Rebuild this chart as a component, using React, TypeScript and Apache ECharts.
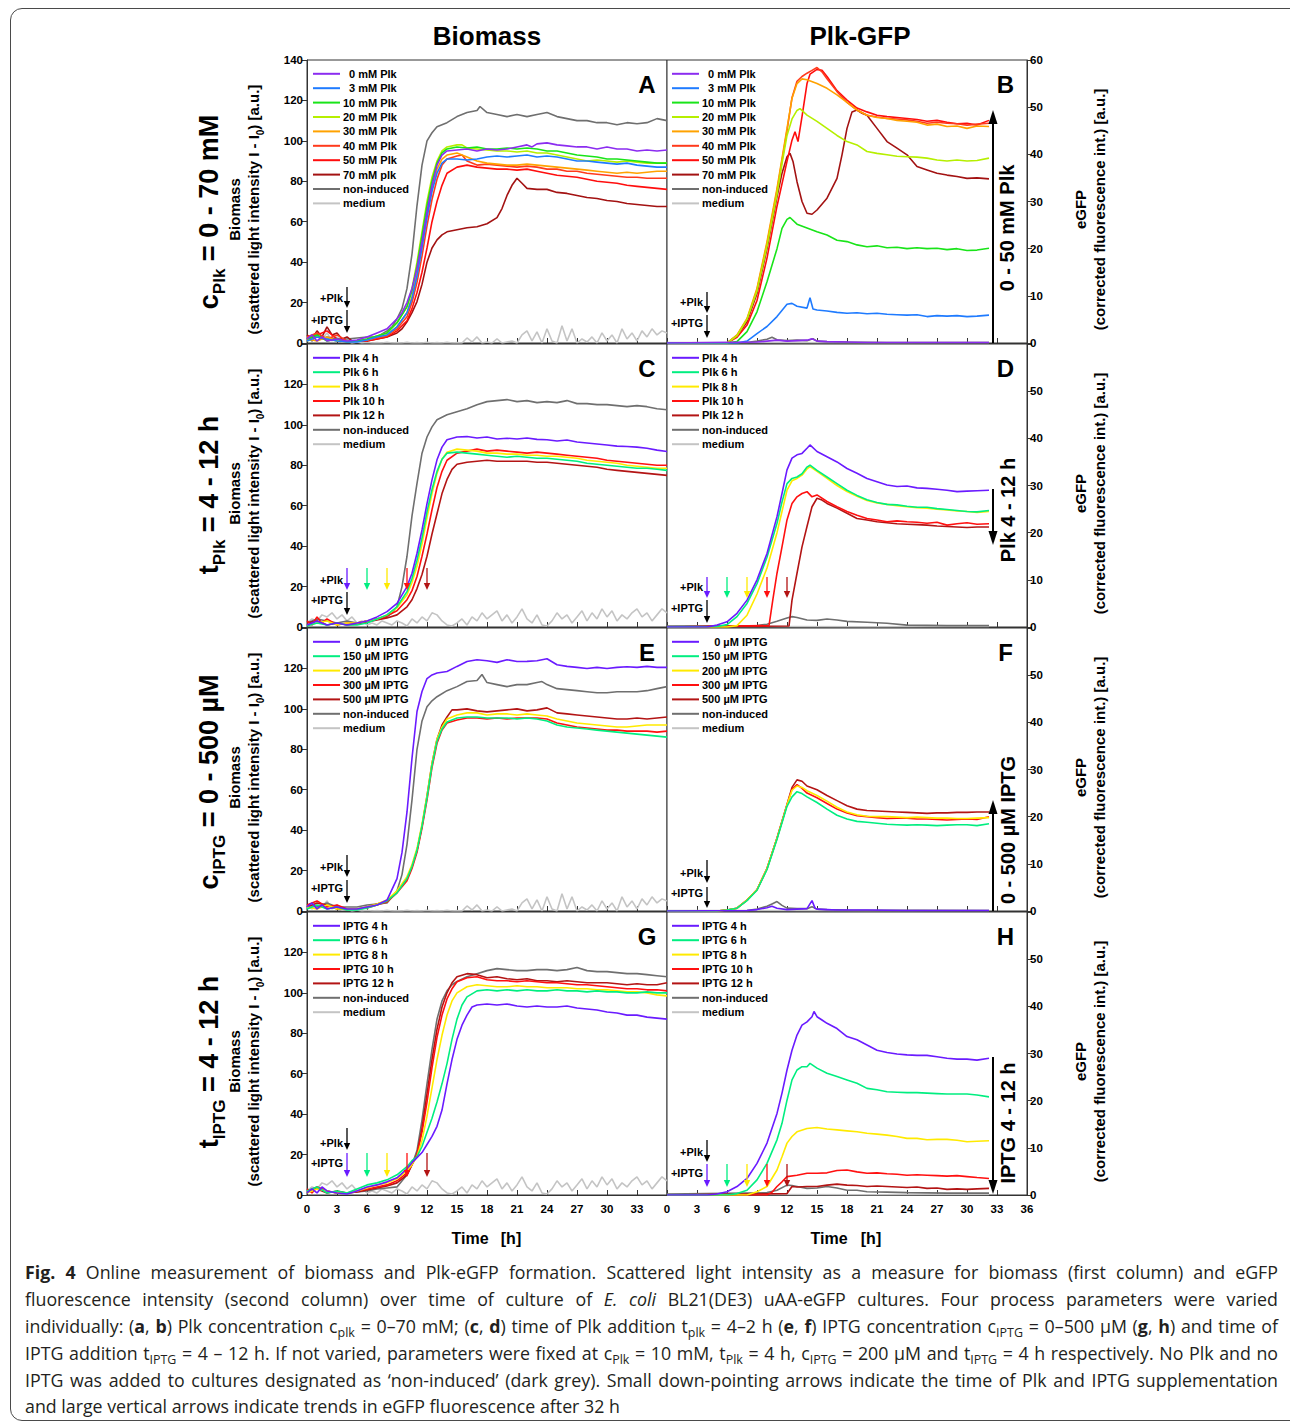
import React, { useEffect, useRef } from "react";
import * as echarts from "echarts";

const FONT = '"Liberation Sans", Arial, Helvetica, sans-serif';

// ---------------- DATA (time [h], value) ----------------
const MED_STEP = 0.5;
const A_MEDIUM = [3,1,4,2,5,1,3,0.5, 1,0,0.5,0,0.3,0,0.2,0,0.3,0,0.2,0,0.3,0,0.2,0,0.3,0,0.2,0,0.3,0,0.2,0,
  2.5,0.5,3,0,0.5,0,2,0,0.5,1,0,4,6,1,5.5,0,7,1,0,8.5,1,7,0,2,0.5,3,0,5,1,4,0,7,2,5,1,6,3,7,4,6,5];
const C_MEDIUM = [2,4,3,6,5,7,4,6,3,5,2,3,1,2,1,3,2,1,3,2,0.5,4,2,5,3,7,6,3,1,0.5,2,4,1,5,3,7,4,6,8,3,6,2,5,9,4,2,6,1,0.5,3,7,4,6,2,5,8,3,7,4,9,5,8,3,6,4,7,9,5,7,3,6,9,7];

const A_0 = [[0,2],[0.5,4],[1,1],[1.5,3],[2,1],[3,2],[4,1],[5,1.5],[6,3],[7,5],[8,7],[9,12],[9.5,15],[10,20],[10.5,27],[11,37],[11.5,50],[12,65],[12.5,78],[13,88],[13.5,93],[14,95],[15,95.5],[16,96],[17,95],[18,96],[19,95.5],[20,96],[21,97],[22,98],[22.5,97],[23,98.5],[24,99],[25,98],[26,97.5],[27,97],[28,97],[29,96],[30,97],[31,96],[32,96],[33,95],[34,95.5],[35,95],[36,95.5]];
const A_3 = [[0,1],[1,3],[2,2],[3,1],[4,0.5],[5,0.5],[6,1.5],[7,3],[8,4],[9,8],[10,15],[10.5,22],[11,33],[11.5,47],[12,62],[12.5,75],[13,84],[13.5,89],[14,91],[15,91],[16,90.5],[17,91],[18,92],[19,92.5],[20,92],[21,92.5],[22,93],[23,92],[24,92.5],[25,92],[26,91],[27,90],[28,90],[29,89.5],[30,89],[31,88.5],[32,89],[33,88],[34,87.5],[35,87],[36,87]];
const A_10 = [[0,2],[1,4],[2,1],[3,2],[4,0.5],[5,1],[6,2],[7,3.5],[8,5],[9,10],[10,18],[10.5,26],[11,38],[11.5,53],[12,68],[12.5,80],[13,89],[13.5,94],[14,96],[15,97],[16,96.5],[17,97],[18,96],[19,96],[20,96.5],[21,96],[22,96.5],[23,96],[24,95],[25,95],[26,94],[27,93],[28,92.5],[29,92],[30,91],[31,91],[32,90.5],[33,90],[34,89.5],[35,89],[36,89]];
const A_20 = [[0,1],[1,3],[2,2],[3,1],[4,1],[5,1],[6,2],[7,3.5],[8,5],[9,10],[10,18],[10.5,27],[11,40],[11.5,55],[12,70],[12.5,82],[13,90],[13.5,95],[14,97],[15,98],[15.5,98],[16,96.5],[17,96],[18,95.5],[19,95],[20,95],[21,94.5],[22,95],[23,94],[24,94],[25,93],[26,92],[27,91],[28,90],[29,90.5],[30,90],[31,89.5],[32,90],[33,89.5],[34,89],[35,89],[36,89]];
const A_30 = [[0,2],[1,1],[2,3],[3,1],[4,0.5],[5,1],[6,1.5],[7,3],[8,4],[9,8],[10,15],[10.5,23],[11,34],[11.5,48],[12,63],[12.5,76],[13,86],[13.5,91],[14,93],[15,94],[16,92],[17,90],[18,89],[19,88.5],[20,88],[21,88],[22,88.5],[23,88],[24,87.5],[25,87],[26,86.5],[27,86],[28,85.5],[29,85],[30,84.5],[31,84],[32,84.5],[33,84],[34,84.5],[35,85],[36,85]];
const A_40 = [[0,3],[1,5],[2,2],[3,4],[4,1],[5,1],[6,1.5],[7,2.5],[8,3.5],[9,7],[10,13],[10.5,20],[11,30],[11.5,43],[12,58],[12.5,71],[13,81],[13.5,88],[14,91],[15,92.5],[15.5,93],[16,90],[17,88],[18,88.5],[19,88],[20,87.5],[21,87],[22,87.5],[23,87],[24,86],[25,86],[26,85],[27,85],[28,84],[29,83.5],[30,83],[31,82.5],[32,82],[33,82],[34,81.5],[35,81.5],[36,81.5]];
const A_50 = [[0,2],[1,4],[2,6],[3,2],[4,1],[5,1],[6,1],[7,2],[8,3],[9,6],[10,11],[10.5,17],[11,25],[11.5,35],[12,47],[12.5,60],[13,70],[13.5,78],[14,84],[15,87],[16,88],[17,87],[18,86.5],[19,86],[20,86],[21,85.5],[22,86],[23,85],[24,84],[25,83],[26,82.5],[27,82],[28,81],[29,80],[30,79.5],[31,79],[32,78],[33,77.5],[34,77],[35,76.5],[36,76]];
const A_70 = [[0,4],[0.5,2],[1,6],[1.5,3],[2,8],[2.5,4],[3,5],[3.5,2],[4,3],[4.5,1],[5,1],[6,1],[7,2],[8,3],[9,5],[9.5,7],[10,10.5],[10.5,15],[11,20.5],[11.5,29],[12,40],[12.5,47],[13,51],[13.5,53.5],[14,55],[15,56],[16,57],[17,57.5],[18,59],[19,62],[19.5,66.5],[20,73],[20.5,78],[21,81.5],[21.5,79],[22,76.5],[23,76],[24,76],[25,74.5],[26,74],[27,73],[28,72],[29,71.5],[30,70.5],[31,70],[32,69],[33,68.5],[34,68],[35,67.5],[36,67.5]];
const A_NON = [[0,3],[0.5,1],[1,4],[1.5,2],[2,3],[3,2],[4,2],[5,2.5],[6,3],[7,3],[8,6],[8.5,8],[9,12],[9.5,17],[10,27],[10.5,44],[11,68],[11.5,88],[12,100],[12.5,104],[13,107],[14,109],[15,112],[16,114],[17,115],[17.3,117],[18,114],[19,113],[20,112],[21,113],[22,112],[23,113],[24,114],[25,112],[26,111],[27,110],[28,110],[29,109],[30,109],[31,108],[32,109],[33,108.5],[34,109],[35,111],[36,110]];

const B_0 = [[0,0],[9,0.2],[10,0.4],[11,0.6],[12,0.4],[13,0.5],[14,0.6],[14.5,0.9],[15,0.4],[16,0.3],[18,0.2],[20,0.1],[32.2,0.1]];
const B_3 = [[0,0],[7,0],[8,0.4],[9,2],[10,3.5],[11,5.6],[12,8.2],[12.5,8.4],[13,7.8],[14,7.4],[14.3,9.6],[14.6,7.2],[15,7],[16,6.8],[17,6.5],[18,6.3],[19,6.4],[20,6.2],[21,6.3],[22,6.1],[23,6],[24,5.9],[25,6],[26,5.6],[27,5.8],[28,5.7],[29,5.8],[30,5.6],[31,5.7],[32.2,5.9]];
const B_10 = [[0,0],[6,0],[7,0.3],[8,2.4],[9,6.6],[10,13],[11,20],[11.5,24.3],[12,26.2],[12.3,26.6],[13,25.2],[14,24.4],[15,23.6],[16,22.9],[17,21.8],[18,21.5],[19,20.8],[20,20.4],[21,20.6],[22,20.2],[23,20.3],[24,20],[25,20.2],[26,20],[27,20.1],[28,19.8],[29,20],[30,19.6],[31,19.7],[32.2,20.1]];
const B_20 = [[0,0],[6,0],[7,1.5],[8,5],[9,11],[10,20.5],[11,31.5],[11.5,38],[12,44],[12.5,47.5],[13,49.3],[13.3,49.7],[14,48.3],[15,47],[16,45.5],[17,44],[18,42.7],[19,42],[20,40.6],[21,40.2],[22,39.9],[23,39.6],[24,39.5],[25,39.4],[26,39.2],[27,38.8],[28,38.6],[29,38.8],[30,38.6],[31,38.7],[32.2,39.2]];
const B_30 = [[0,0],[6,0],[7,1.7],[8,5.2],[9,11.6],[10,21.5],[11,32.8],[12,45.5],[12.5,51.9],[13,55],[13.5,56],[14,55.8],[15,55],[16,54],[17,52.6],[18,51],[19,49.4],[20,48.3],[21,47.8],[22,47.6],[23,47.2],[24,47],[25,46.8],[26,46.2],[27,46.4],[28,45.9],[29,46],[30,45.5],[31,46],[32.2,45.9]];
const B_40 = [[0,0],[6,0],[7,1.6],[8,5],[9,11.3],[10,21],[11,32.3],[12,45],[12.5,52],[13,55.5],[13.5,56.5],[14,57.2],[14.5,57.8],[15,58.4],[15.5,57.5],[16,56],[17,53.3],[18,51],[19,49.4],[20,48.3],[21,47.9],[22,47.6],[23,47.5],[24,47.3],[25,47],[26,46.6],[27,46.8],[28,46.6],[29,46.5],[30,46.2],[31,46.4],[32.2,46.6]];
const B_50 = [[0,0],[6,0],[7,1.2],[8,3.8],[9,9],[10,18],[11,29],[12,38.5],[12.5,43],[12.8,44.8],[13.1,42.7],[13.5,48],[14,55],[14.3,57],[15,58],[15.5,57.8],[16,56.5],[17,53.5],[18,51.5],[19,49.8],[20,49],[21,48.3],[22,48],[23,47.8],[24,47.6],[25,47.4],[26,47],[27,47.2],[28,46.8],[29,46.5],[30,46.6],[31,46.2],[32.2,47.2]];
const B_70 = [[0,0],[6,0],[7,1.5],[8,4.5],[9,10.5],[10,20],[11,31],[11.5,36],[12,39.5],[12.3,40.2],[12.6,38.5],[13,34.2],[13.5,30],[14,27.5],[14.5,27.3],[15,28.2],[16,30.7],[17,34.9],[17.5,39.9],[18,45.5],[18.5,49],[19,49.4],[19.5,48.7],[20,48.3],[21,45.5],[22,42.7],[23,41.3],[24,39.9],[25,37.4],[26,36.7],[27,36],[28,35.6],[29,35.3],[30,34.9],[31,35],[32.2,34.8]];
const B_NON = [[0,0],[8,0.1],[9,0.4],[10,0.8],[10.5,1.2],[11,0.7],[12,0.5],[13,0.6],[14,0.5],[14.6,0.9],[15,0.4],[16,0.3],[18,0.2],[22,0.1],[32.2,0.1]];
const R_MEDIUM = [[0,0.1],[10,0.1],[20,0.05],[32.2,0.1]];

const C_4 = [[0,1],[1,3],[2,1],[3,2],[4,1],[5,2],[6,3],[7,5],[8,7.6],[9,11.7],[10,20],[10.5,26.6],[11,36.5],[11.5,48],[12,61],[12.5,72.8],[13,82.7],[13.5,89],[14,92.6],[15,94],[16,94.2],[17,93.5],[18,94],[19,93],[20,93.4],[21,93],[22,93.5],[23,92.8],[24,92.6],[25,92],[26,92.5],[27,91.5],[28,91],[29,90.5],[30,90],[31,89.5],[32,89.3],[33,89],[34,88.4],[35,87.5],[36,86.8]];
const C_6 = [[0,0.5],[1,2],[2,1],[3,2],[4,1],[5,1],[6,2],[7,4],[8,6],[9,10],[10,17.5],[10.5,24],[11,33],[11.5,44],[12,57],[12.5,68],[13,77],[13.5,83],[14,86],[15,86.5],[16,86],[17,85.5],[18,85],[19,84.5],[20,84],[21,84.5],[22,84],[23,83.5],[24,83.5],[25,83],[26,82.5],[27,82],[28,81],[29,80.5],[30,80],[31,79.5],[32,79],[33,78.5],[34,78.5],[35,78],[36,77.5]];
const C_8 = [[0,1],[1,2],[2,3],[3,1],[4,2],[5,2],[6,3],[7,4],[8,6],[9,9.5],[10,16],[10.5,22],[11,30],[11.5,41],[12,54],[12.5,66],[13,76],[13.5,83],[14,86.5],[15,88],[16,87.5],[17,87],[18,86],[19,86],[20,85.5],[21,85.5],[22,85],[23,85],[24,84.5],[25,84.5],[26,84],[27,83.5],[28,82.5],[29,82],[30,81.5],[31,81],[32,80],[33,79.5],[34,79],[35,78.5],[36,78.5]];
const C_10 = [[0,3],[0.5,1],[1,5],[1.5,2],[2,4],[3,1],[4,2],[5,2],[6,3],[7,4],[8,5.5],[9,8],[10,13.5],[10.5,18],[11,25],[11.5,35],[12,46],[12.5,58],[13,69],[13.5,77],[14,82.5],[15,86],[16,87],[17,88],[18,87],[19,87.5],[20,87],[21,86.5],[22,86],[23,86.5],[24,86],[25,85.5],[26,85],[27,84.5],[28,84],[29,83.5],[30,82.5],[31,82],[32,81.5],[33,81],[34,80.5],[35,80],[36,80]];
const C_12 = [[0,2],[1,3],[2,1],[3,2],[4,1],[5,1.5],[6,2.5],[7,3.5],[8,4.5],[9,6],[10,10],[10.5,13.5],[11,19],[11.5,26],[12,35],[12.5,46],[13,56],[13.5,66],[14,73],[14.5,78],[15,80.5],[16,81.5],[17,82],[18,82.5],[19,82],[20,82],[21,82],[22,82],[23,81.5],[24,81.5],[25,81],[26,80.5],[27,80],[28,79.5],[29,79],[30,78],[31,77.5],[32,77],[33,76.5],[34,76],[35,75.5],[36,75]];
const C_NON = [[0,2],[1,4],[2,3],[3,2],[4,3],[5,2],[6,3],[7,4],[8,5],[8.5,7],[9,10],[9.5,20],[10,35],[10.5,55],[11,71],[11.5,86],[12,94],[12.5,99],[13,102.5],[14,105],[15,106.5],[16,108],[17,110],[18,111.5],[19,112],[20,112.5],[21,111.5],[22,112],[23,111],[24,111.5],[25,111],[26,112],[27,110.5],[28,110.5],[29,110],[30,110],[31,109.5],[32,109],[33,109.5],[34,109],[35,108],[36,107.5]];

const D_4 = [[0,0],[4,0],[5,0.4],[6,1.1],[7,2.9],[8,5.7],[9,10],[10,15.6],[11,23.4],[11.5,28.3],[12,33.3],[12.5,35.8],[13,36.5],[13.5,36.8],[14,37.9],[14.3,38.6],[15,37.2],[16,36.1],[17,35],[18,33.6],[19,32.6],[20,31.5],[21,30.8],[22,30.1],[23,29.8],[24,29.9],[25,29.5],[26,29.4],[27,29.2],[28,29],[29,28.7],[30,28.8],[31,28.9],[32.2,29]];
const D_6 = [[0,0],[5,0.1],[6,0.5],[7,2.2],[8,5],[9,9.2],[10,14.8],[11,22],[11.5,26.5],[12,30.4],[12.5,31.5],[13,31.8],[13.5,32.5],[14,33.9],[14.3,34.3],[15,33.2],[16,31.8],[17,30.4],[18,29],[19,27.9],[20,27],[21,26.4],[22,26],[23,25.9],[24,25.6],[25,25.4],[26,25.4],[27,25.1],[28,24.9],[29,24.7],[30,24.5],[31,24.4],[32.2,24.7]];
const D_8 = [[0,0],[6,0],[7,0.3],[8,2.5],[9,7],[10,12.5],[11,20],[11.5,24.5],[12,29],[12.5,31],[13,31.5],[13.5,32.2],[14,33.5],[14.3,34],[15,33],[16,31.5],[17,30],[18,28.7],[19,27.7],[20,26.8],[21,26.3],[22,26],[23,25.7],[24,25.5],[25,25.3],[26,25.2],[27,25],[28,24.8],[29,24.6],[30,24.5],[31,24.3],[32.2,24.5]];
const D_10 = [[0,0],[10.2,0.3],[10.6,6],[11,11.4],[11.5,17],[12,22.7],[12.5,26.2],[13,27.6],[13.5,28.3],[14,28.7],[14.5,27.6],[15,28],[16,26.6],[17,25.5],[18,24.5],[19,23.7],[20,23],[21,22.7],[22,22.3],[23,22.5],[24,22.3],[25,22.2],[26,22],[27,22.2],[28,21.6],[29,21.9],[30,22.1],[31,21.8],[32.2,21.9]];
const D_12 = [[0,0],[12.2,0.2],[12.5,5.7],[13,11.4],[13.5,17],[14,21.3],[14.5,25.5],[15,27.3],[15.5,26.9],[16,26.2],[17,25.2],[18,24.1],[19,23],[20,22.7],[21,22.3],[22,22.1],[23,21.9],[24,21.8],[25,21.7],[26,21.6],[27,21.4],[28,21.3],[29,21.2],[30,21.1],[31,21.2],[32.2,21.2]];
const D_NON = [[0,0.2],[9,0.3],[10,0.6],[11,1.2],[12,1.9],[12.5,2.2],[13,2],[14,1.5],[15,1.4],[16,1.7],[17,1.5],[18,1.2],[20,1],[22,0.8],[24,0.4],[28,0.3],[32.2,0.3]];

const E_0 = [[0,2],[0.5,4],[1,1],[1.5,3],[2,1],[3,2],[4,1],[5,1],[6,2],[7,3],[8,5.4],[9,16],[9.5,29],[10,49],[10.5,75.6],[11,98.7],[11.5,108.6],[12,115],[12.5,116.8],[13,117.7],[14,118.5],[15,121],[16,123.4],[17,124.3],[18,123.8],[19,123],[20,124.3],[21,123.4],[22,123.5],[23,123.8],[24,124.8],[25,121.8],[26,121],[27,120.5],[28,120],[29,120.5],[30,120],[31,120.5],[32,120.8],[33,120.5],[34,121],[35,120.5],[36,120.5]];
const E_150 = [[0,1],[1,3],[2,1],[3,2],[4,0.5],[5,0.5],[6,1.5],[7,3],[8,5],[9,9],[10,16],[10.5,22],[11,30],[11.5,42],[12,56],[12.5,72],[13,84],[13.5,90],[14,93.5],[15,95.5],[16,96],[17,96],[18,95.5],[19,95.5],[20,95.5],[21,95],[22,95.5],[23,95],[24,94],[25,92],[26,91],[27,90.5],[28,90],[29,89.5],[30,89],[31,88.5],[32,88],[33,87.5],[34,87],[35,86.5],[36,86]];
const E_200 = [[0,2],[1,1],[2,3],[3,1],[4,1],[5,1],[6,2],[7,3.5],[8,5.5],[9,10],[10,17],[10.5,23],[11,31],[11.5,43],[12,57],[12.5,73],[13,85],[13.5,91],[14,95],[15,97],[16,98],[17,98],[18,97],[19,97.5],[20,97.5],[21,97],[22,97.5],[23,97],[24,96.5],[25,95],[26,94],[27,93],[28,92.5],[29,92],[30,91.5],[31,91],[32,91],[33,91.5],[34,92],[35,92],[36,92]];
const E_300 = [[0,3],[1,5],[2,2],[3,3],[4,1],[5,1],[6,1.5],[7,3],[8,4.5],[9,9],[10,15],[10.5,21],[11,29],[11.5,41],[12,55],[12.5,71],[13,83],[13.5,89.5],[14,93],[15,94.5],[16,95.5],[17,95.5],[18,95],[19,95.5],[20,95],[21,95.5],[22,95.5],[23,95.5],[24,95],[25,93],[26,92],[27,91],[28,90.5],[29,90],[30,89.5],[31,89.5],[32,89],[33,89],[34,89],[35,88.5],[36,89]];
const E_500 = [[0,2],[1,4],[2,3],[3,1],[4,1],[5,1],[6,2],[7,3.5],[8,5],[9,9.5],[10,16],[10.5,22],[11,30],[11.5,42],[12,57],[12.5,73],[13,85],[13.5,92],[14,96],[14.5,99.5],[15,99.5],[16,100],[17,99],[18,98.5],[19,99],[20,99.5],[21,100],[22,99],[23,99.5],[24,100.5],[25,98],[26,97.5],[27,97],[28,96.5],[29,96],[30,95.5],[31,95],[32,95],[33,95.5],[34,95],[35,95.5],[36,96]];
const E_NON = [[0,3],[1,2],[2,4],[3,2],[4,2],[5,2],[6,3],[7,3.5],[8,4],[9,10],[9.5,18],[10,33],[10.5,55],[11,80],[11.5,94],[12,101],[12.5,104],[13,106],[14,109],[15,111],[16,113.5],[17,114],[17.5,117],[18,113],[19,112],[20,111],[21,112],[22,112],[23,113],[23.5,113.5],[24,112],[25,110],[26,109.5],[27,109],[28,108.5],[29,108],[30,108],[31,108.5],[32,108.5],[33,108.5],[34,109],[35,110],[36,111]];

const F_0 = [[0,0],[8,0.1],[9,0.3],[10,0.7],[10.5,1],[11,0.6],[12,0.3],[13,0.4],[14,0.5],[14.5,2.2],[14.8,0.6],[15,0.4],[16,0.3],[17,0.2],[20,0.2],[24,0.1],[32.2,0.1]];
const F_150 = [[0,0],[5,0],[6,0.2],[7,0.6],[8,2.2],[9,4.4],[10,8.8],[11,15.2],[12,22.2],[12.5,24.2],[13,25.3],[13.5,24.9],[14,24.2],[15,23],[16,21.6],[17,20.3],[18,19.5],[19,19],[20,18.8],[21,18.6],[22,18.4],[23,18.3],[24,18.2],[25,18.3],[26,18.2],[27,18.1],[28,18.2],[29,18.3],[30,18.3],[31,18.1],[32.2,18.5]];
const F_200 = [[0,0],[5,0],[6,0.2],[7,0.6],[8,2.3],[9,4.5],[10,9],[11,15.4],[12,22.5],[12.5,25.6],[13,26.5],[13.5,26.2],[14,25.5],[15,24.5],[16,23.3],[17,22],[18,21],[19,20.4],[20,20.1],[21,20],[22,20],[23,19.9],[24,19.8],[25,19.9],[26,19.8],[27,19.7],[28,19.7],[29,19.6],[30,19.6],[31,19.7],[32.2,19.8]];
const F_300 = [[0,0],[5,0],[6,0.2],[7,0.6],[8,2.3],[9,4.5],[10,9],[11,15.4],[12,22.5],[12.5,25.8],[13,26.8],[13.5,26],[14,25],[15,24],[16,22.8],[17,21.6],[18,20.8],[19,20.2],[20,20],[21,19.8],[22,19.6],[23,19.7],[24,19.7],[25,19.5],[26,19.5],[27,19.4],[28,19.3],[29,19.4],[30,19.5],[31,19.4],[32.2,20]];
const F_500 = [[0,0],[5,0],[6,0.2],[7,0.6],[8,2.3],[9,4.5],[10,9],[11,15.5],[12,22.6],[12.5,26.2],[13,27.8],[13.5,27.5],[14,26.5],[15,25.7],[16,24.5],[17,23.4],[18,22.3],[19,21.6],[20,21.3],[21,21.2],[22,21.1],[23,21],[24,20.9],[25,20.8],[26,20.7],[27,20.8],[28,20.8],[29,20.9],[30,20.9],[31,21],[32.2,21]];
const F_NON = [[0,0],[8,0.1],[9,0.4],[10,1],[10.5,1.5],[11,2],[11.5,1.2],[12,0.6],[13,0.5],[14,0.5],[14.5,0.9],[15,0.4],[16,0.3],[18,0.2],[32.2,0.1]];

const G_4 = [[0,1],[0.5,3],[1,1],[1.5,4],[2,2],[3,1],[4,0.5],[5,2],[6,4],[7,5],[8,6.5],[9,8.5],[10,13],[10.5,16],[11,18.5],[11.5,21],[12,25],[12.5,29],[13,34],[13.5,42],[14,55],[14.5,67],[15,77],[15.5,84],[16,89],[16.5,93],[17,94],[18,94.5],[19,94],[20,94.5],[21,93.5],[22,93],[23,93.5],[24,93],[25,93],[26,93.5],[27,92.5],[28,92],[29,91.5],[30,90.5],[31,90],[32,89],[33,89],[34,88],[35,87.5],[36,87]];
const G_6 = [[0,2],[1,4],[2,1],[3,2],[4,1],[5,3],[6,5],[7,6],[8,7.5],[9,10],[10,14],[10.5,17],[11,19],[11.5,24],[12,31],[12.5,38],[13,46],[13.5,55],[14,65],[14.5,77],[15,87],[15.5,94],[16,98],[17,101],[18,101.5],[19,101],[20,101.5],[21,101],[22,101.5],[23,101],[24,101],[25,101.5],[26,101],[27,101],[28,100.5],[29,101],[30,100.5],[31,100.5],[32,100],[33,100],[34,100.5],[35,100],[36,100]];
const G_8 = [[0,1],[1,3],[2,2],[3,1],[4,1],[5,2],[6,3.5],[7,5],[8,6],[9,8],[10,12],[10.5,15],[11,19],[11.5,27],[12,39],[12.5,53],[13,67],[13.5,79],[14,89],[14.5,96],[15,100],[16,103],[17,104],[18,103.5],[19,103],[20,103],[21,103.5],[22,103],[23,103],[24,102.5],[25,102.5],[26,102.5],[27,102],[28,102],[29,101.5],[30,101.5],[31,101],[32,100.5],[33,100.5],[34,100],[35,99],[36,98.5]];
const G_10 = [[0,3],[0.5,1],[1,4],[2,2],[3,1],[4,1],[5,2],[6,3],[7,4],[8,5],[9,7],[10,11],[10.5,15],[11,20],[11.5,31],[12,46],[12.5,63],[13,78],[13.5,89],[14,97],[14.5,102],[15,105.5],[16,107.5],[17,108],[18,106.5],[19,106],[20,106],[21,105.5],[22,106],[23,105.5],[24,105],[25,105],[26,104.5],[27,104],[28,104],[29,103.5],[30,103],[31,102.5],[32,102],[33,102],[34,101.5],[35,101.5],[36,101]];
const G_12 = [[0,2],[1,3],[2,1],[3,2],[4,1],[5,1.5],[6,2.5],[7,3.5],[8,4.5],[9,6],[10,10],[10.5,15],[11,20],[11.5,33],[12,50],[12.5,67],[13,82],[13.5,93],[14,100],[14.5,105],[15,108],[16,109.5],[17,109],[18,107.5],[19,108],[20,107],[21,106.5],[22,107],[23,106],[24,106],[25,105.5],[26,106],[27,105.5],[28,105],[29,105],[30,105],[31,104.5],[32,104],[33,104.5],[34,104],[35,104],[36,105]];
const G_NON = [[0,2],[1,4],[2,2],[3,1],[4,1],[5,1.5],[6,2],[7,3],[8,3.5],[9,4],[10,10],[10.5,15],[11,22],[11.5,37],[12,55],[12.5,72],[13,87],[13.5,96],[14,101],[14.5,104],[15,105.6],[16,108],[17,109.5],[18,111],[19,112],[20,111.5],[21,111],[22,111],[23,111.5],[24,111.5],[25,111],[26,111.5],[27,112.5],[28,111],[29,110.5],[30,110.5],[31,110],[32,109.5],[33,109.5],[34,109],[35,108.5],[36,108]];

const H_4 = [[0,0],[4,0],[5,0.2],[6,0.7],[7,1.8],[8,3.5],[9,6.7],[10,11],[11,17.3],[11.5,21.6],[12,26.5],[12.5,30.7],[13,33.9],[13.5,36],[14,36.7],[14.5,37.8],[14.7,38.9],[15,37.8],[15.5,37.1],[16,36.4],[17,35.3],[18,33.6],[19,32.9],[20,31.8],[21,30.7],[22,30.2],[23,29.9],[24,29.7],[25,29.6],[26,29.6],[27,29.3],[28,29],[29,28.8],[30,28.8],[31,28.6],[32.2,29]];
const H_6 = [[0,0],[6,0],[7,0.3],[8,1],[9,3.2],[10,6.7],[11,11.7],[11.5,15.2],[12,20.1],[12.5,24.4],[13,26.5],[13.5,27.2],[14,27.2],[14.3,27.9],[15,26.9],[16,25.8],[17,25.1],[18,24.4],[19,23.7],[20,22.6],[21,22.3],[22,21.9],[23,21.8],[24,21.7],[25,21.7],[26,21.6],[27,21.5],[28,21.4],[29,21.4],[30,21.4],[31,21.2],[32.2,20.8]];
const H_8 = [[0,0],[8,0],[9,0.7],[10,1.8],[11,5.3],[11.5,8.1],[12,11],[12.5,12.4],[13,13.4],[14,14.1],[15,14.3],[16,14],[17,13.8],[18,13.6],[19,13.4],[20,13.1],[21,12.9],[22,12.7],[23,12.4],[24,12],[25,12],[26,11.7],[27,11.8],[28,11.8],[29,11.6],[30,11.3],[31,11.4],[32.2,11.5]];
const H_10 = [[0,0],[10,0],[10.5,0.6],[11,1.8],[11.5,2.8],[12,3.9],[13,4.2],[14,4.6],[15,4.6],[16,4.7],[17,5.2],[18,5.3],[19,4.9],[20,4.6],[21,4.7],[22,4.5],[23,4.4],[24,4.2],[25,4.3],[26,4.2],[27,4.1],[28,4],[29,4.1],[30,3.9],[31,3.7],[32.2,3.5]];
const H_12 = [[0,0],[12,0.3],[12.5,1.8],[13,1.7],[14,1.8],[15,1.8],[16,2.1],[17,2.3],[18,2.1],[19,2],[20,1.8],[21,1.9],[22,1.8],[23,1.7],[24,1.6],[25,1.7],[26,1.4],[27,1.5],[28,1.2],[29,1.3],[30,1.2],[31,1.3],[32.2,1.4]];
const H_NON = [[0,0.2],[10,0.5],[11,1],[12,2.1],[12.5,2],[13,1.8],[14,1.4],[15,1.5],[16,1.8],[17,1.5],[18,1],[19,1],[20,0.7],[22,0.6],[24,0.5],[28,0.4],[32.2,0.4]];

// legend labels
const LEG_CONC = ["0 mM Plk","3 mM Plk","10 mM Plk","20 mM Plk","30 mM Plk","40 mM Plk","50 mM Plk"];
const LEG_PLK = ["Plk 4 h","Plk 6 h","Plk 8 h","Plk 10 h","Plk 12 h"];
const LEG_IPTGC = ["0 µM IPTG","150 µM IPTG","200 µM IPTG","300 µM IPTG","500 µM IPTG"];
const LEG_IPTGT = ["IPTG 4 h","IPTG 6 h","IPTG 8 h","IPTG 10 h","IPTG 12 h"];
const ADD_TIMES = [4, 6, 8, 10, 12];

// colours
const COL = {
  purpleA: "#8b2cf0", purple: "#6a1bff", blue: "#1f7bff", green: "#19e419", lime: "#b6ef00",
  orange: "#ffa200", red40: "#ff3a1c", red: "#ff0d0d", dred: "#a31212", spring: "#00ee80",
  yellow: "#ffea00", red2: "#ff1010", dred2: "#b31414", grey: "#6f6f6f", light: "#c4c4c4",
};

// ---------------- LAYOUT ----------------
const ROW_TOP = [60, 344, 628, 912];
const ROW_H = 283;
const COL_X = [307, 667];
const COL_W = 360;

const stepSeries = (vals: number[]) => vals.map((v, i) => [i * MED_STEP, v]);

type Item = { label: string; color: string; data: number[][]; indent?: number };

function buildPanels() {
  const medL = stepSeries(A_MEDIUM);
  const medC = stepSeries(C_MEDIUM);
  const tailL = (med: number[][], non: number[][]): Item[] => [
    { label: "non-induced", color: COL.grey, data: non },
    { label: "medium", color: COL.light, data: med },
  ];
  const conc = (i: number) => LEG_CONC[i];
  const A: Item[] = [
    { label: conc(0), color: COL.purpleA, data: A_0, indent: 6 },
    { label: conc(1), color: COL.blue, data: A_3, indent: 6 },
    { label: conc(2), color: COL.green, data: A_10 },
    { label: conc(3), color: COL.lime, data: A_20 },
    { label: conc(4), color: COL.orange, data: A_30 },
    { label: conc(5), color: COL.red40, data: A_40 },
    { label: conc(6), color: COL.red, data: A_50 },
    { label: "70 mM plk", color: COL.dred, data: A_70 },
    ...tailL(medL, A_NON),
  ];
  const B: Item[] = [
    { label: conc(0), color: COL.purpleA, data: B_0, indent: 6 },
    { label: conc(1), color: COL.blue, data: B_3, indent: 6 },
    { label: conc(2), color: COL.green, data: B_10 },
    { label: conc(3), color: COL.lime, data: B_20 },
    { label: conc(4), color: COL.orange, data: B_30 },
    { label: conc(5), color: COL.red40, data: B_40 },
    { label: conc(6), color: COL.red, data: B_50 },
    { label: "70 mM Plk", color: COL.dred, data: B_70 },
    ...tailL(R_MEDIUM, B_NON),
  ];
  const five = [COL.purple, COL.spring, COL.yellow, COL.red2, COL.dred2];
  const mk = (labels: string[], datas: number[][][], med: number[][], non: number[][], ind?: number): Item[] => [
    ...labels.map((l, i) => ({ label: l, color: five[i], data: datas[i], indent: i === 0 ? ind : undefined })),
    ...tailL(med, non),
  ];
  return [
    A, B,
    mk(LEG_PLK, [C_4, C_6, C_8, C_10, C_12], medC, C_NON),
    mk(LEG_PLK, [D_4, D_6, D_8, D_10, D_12], R_MEDIUM, D_NON),
    mk(LEG_IPTGC, [E_0, E_150, E_200, E_300, E_500], medL, E_NON, 12.2),
    mk(LEG_IPTGC, [F_0, F_150, F_200, F_300, F_500], R_MEDIUM, F_NON, 12.2),
    mk(LEG_IPTGT, [G_4, G_6, G_8, G_10, G_12], medC, G_NON),
    mk(LEG_IPTGT, [H_4, H_6, H_8, H_10, H_12], R_MEDIUM, H_NON),
  ];
}

// annotation arrows per panel: [plk y1, plk y2, iptg y1, iptg y2, plkText y, iptgText y] (offsets from bottom)
const ARROW_OFF = [
  [56, 35, 33, 10, 45, 23],
  [51, 30, 28, 5, 41, 20],
  [59, 37, 35, 12, 47, 27],
  [50, 29, 27, 4, 40, 19],
  [56, 34, 31, 8, 44, 23],
  [51, 28, 24, 3, 38, 18],
  [67, 45, 42, 18, 52, 32],
  [55, 33, 31, 8, 43, 22],
];

function buildOption() {
  const panels = buildPanels();
  const grid: any[] = [], xAxis: any[] = [], yAxis: any[] = [], series: any[] = [], graphic: any[] = [];
  const bold = (s: number) => `bold ${s}px ${FONT}`;
  const text = (x: number, y: number, t: string, size: number, opt: any = {}) => {
    graphic.push({
      type: "text", x, y, rotation: opt.rotation || 0, silent: true, z: 100,
      style: {
        text: t, fill: opt.color || "#000", font: bold(size),
        textAlign: opt.align || "left", align: opt.align || "left",
        textVerticalAlign: "middle", verticalAlign: "middle", rich: opt.rich,
      },
    });
  };
  const arrowDown = (x: number, y1: number, y2: number, color: string) => {
    graphic.push({ type: "line", silent: true, z: 100, shape: { x1: x, y1, x2: x, y2: y2 - 5 }, style: { stroke: color, lineWidth: 1.3 } });
    graphic.push({ type: "polygon", silent: true, z: 100, shape: { points: [[x - 3.2, y2 - 7], [x + 3.2, y2 - 7], [x, y2]] }, style: { fill: color } });
  };
  const bigArrow = (x: number, yFrom: number, yTo: number) => {
    const dir = yTo < yFrom ? -1 : 1;
    graphic.push({ type: "line", silent: true, z: 100, shape: { x1: x, y1: yFrom, x2: x, y2: yTo - dir * 10 }, style: { stroke: "#000", lineWidth: 2 } });
    graphic.push({ type: "polygon", silent: true, z: 100, shape: { points: [[x - 4.5, yTo - dir * 14], [x + 4.5, yTo - dir * 14], [x, yTo]] }, style: { fill: "#000" } });
  };
  const xOf = (col: number, t: number) => COL_X[col] + (t * COL_W) / 36;

  for (let p = 0; p < 8; p++) {
    const row = p >> 1, col = p & 1;
    const top = ROW_TOP[row], bottom = top + ROW_H;
    grid.push({ left: COL_X[col], top, width: COL_W, height: ROW_H, show: true, borderColor: "#333", borderWidth: 1, backgroundColor: "#fff", containLabel: false, outerBoundsMode: "none" });
    xAxis.push({
      type: "value", gridIndex: p, min: 0, max: 36, interval: 3,
      axisLine: { show: true, onZero: false, lineStyle: { color: "#333", width: 1 } },
      axisTick: { show: true, inside: true, length: 5, lineStyle: { color: "#333", width: 1 } },
      axisLabel: {
        show: row === 3, color: "#000", fontFamily: FONT, fontWeight: "bold", fontSize: 11.5, margin: 8,
        formatter: (v: number) => (col === 0 && v === 36 ? "" : String(v)),
      },
      splitLine: { show: false },
    });
    const ymax = col === 0 ? 140 : 60;
    yAxis.push({
      type: "value", gridIndex: p, min: 0, max: ymax, interval: col === 0 ? 20 : 10,
      position: col === 0 ? "left" : "right",
      axisLine: { show: true, onZero: false, lineStyle: { color: "#333", width: 1 } },
      axisTick: { show: true, inside: false, length: 5, lineStyle: { color: "#333", width: 1 } },
      axisLabel: {
        show: true, color: "#000", fontFamily: FONT, fontWeight: "bold", fontSize: 11.5, margin: col === 0 ? 4 : 3,
        formatter: (v: number) => (row > 0 && v === ymax ? "" : String(v)),
      },
      splitLine: { show: false },
    });

    const items = panels[p];
    const order = [items.length - 1, items.length - 2];
    for (let i = items.length - 3; i >= 0; i--) order.push(i);
    order.forEach((i) => {
      const it = items[i];
      series.push({
        type: "line", name: it.label + "#" + p, xAxisIndex: p, yAxisIndex: p, data: it.data,
        showSymbol: false, symbol: "none", silent: true, clip: true,
        lineStyle: { color: it.color, width: 1.6 }, itemStyle: { color: it.color },
      });
    });

    // legend
    const lx = col === 0 ? 313 : 672;
    items.forEach((it, i) => {
      const y = top + 13.8 + i * 14.4;
      graphic.push({ type: "line", silent: true, z: 100, shape: { x1: lx, y1: y, x2: lx + 27, y2: y }, style: { stroke: it.color, lineWidth: 2 } });
      text(lx + 30 + (it.indent || 0), y, it.label, 11);
    });

    text(col === 0 ? 647 : 1005.5, top + 24.5, "ABCDEFGH"[p], 24, { align: "center" });

    const o = ARROW_OFF[p];
    const ax = xOf(col, 4);
    if (row === 1) {
      ADD_TIMES.forEach((t, i) => arrowDown(xOf(col, t), bottom - o[0], bottom - o[1], items[i].color));
      arrowDown(ax, bottom - o[2], bottom - o[3], "#000");
    } else if (row === 3) {
      arrowDown(ax, bottom - o[0], bottom - o[1], "#000");
      ADD_TIMES.forEach((t, i) => arrowDown(xOf(col, t), bottom - o[2], bottom - o[3], items[i].color));
    } else {
      arrowDown(ax, bottom - o[0], bottom - o[1], "#000");
      arrowDown(ax, bottom - o[2], bottom - o[3], "#000");
    }
    text(ax - 4, bottom - o[4], "+Plk", 11, { align: "right" });
    text(ax - 4, bottom - o[5], "+IPTG", 11, { align: "right" });
  }

  text(487, 36, "Biomass", 26, { align: "center" });
  text(860, 36, "Plk-GFP", 26, { align: "center" });

  bigArrow(993, 343, 110);
  text(1007, 228, "0 - 50 mM Plk", 20, { align: "center", rotation: Math.PI / 2 });
  bigArrow(993, 489, 545);
  text(1008, 510, "Plk 4 - 12 h", 20, { align: "center", rotation: Math.PI / 2 });
  bigArrow(993, 911, 800);
  text(1008, 830, "0 - 500 µM IPTG", 20, { align: "center", rotation: Math.PI / 2 });
  bigArrow(993, 1057, 1194);
  text(1008, 1123, "IPTG 4 - 12 h", 20, { align: "center", rotation: Math.PI / 2 });

  const ROWS = [
    ["c", "Plk", " = 0 - 70 mM", 212],
    ["t", "Plk", " = 4 - 12 h", 495],
    ["c", "IPTG", " = 0 - 500 µM", 782],
    ["t", "IPTG", " = 4 - 12 h", 1062],
  ];
  const richBig = {
    m: { fontSize: 27, fontWeight: "bold", fontFamily: FONT, fill: "#000", color: "#000", lineHeight: 30, verticalAlign: "top" },
    s: { fontSize: 17, fontWeight: "bold", fontFamily: FONT, fill: "#000", color: "#000", lineHeight: 17, padding: [16, 0, 0, 0], verticalAlign: "top" },
  };
  ROWS.forEach(([v, sub, rest, y]) => {
    text(210, y as number, `{m|${v}}{s|${sub}}{m|${rest}}`, 27, { align: "center", rotation: Math.PI / 2, rich: richBig });
  });
  const richSmall = {
    m: { fontSize: 15, fontWeight: "bold", fontFamily: FONT, fill: "#000", color: "#000", lineHeight: 17, verticalAlign: "top" },
    s: { fontSize: 10, fontWeight: "bold", fontFamily: FONT, fill: "#000", color: "#000", lineHeight: 10, padding: [10, 0, 0, 0], verticalAlign: "top" },
  };
  for (let r = 0; r < 4; r++) {
    const cy = ROW_TOP[r] + ROW_H / 2 + 8;
    text(234, cy, "Biomass", 15, { align: "center", rotation: Math.PI / 2 });
    text(254, cy, "{m|(scattered light intensity I - I}{s|0}{m|) [a.u.]}", 15, { align: "center", rotation: Math.PI / 2, rich: richSmall });
    text(1080, cy, "eGFP", 15, { align: "center", rotation: Math.PI / 2 });
    text(1099, cy, "(corrected fluorescence int.) [a.u.]", 15, { align: "center", rotation: Math.PI / 2 });
  }

  text(470, 1238, "Time", 16, { align: "center" });
  text(511, 1238, "[h]", 16, { align: "center" });
  text(829, 1238, "Time", 16, { align: "center" });
  text(871, 1238, "[h]", 16, { align: "center" });

  return { animation: false, backgroundColor: "transparent", grid, xAxis, yAxis, series, graphic };
}

const subStyle: React.CSSProperties = { fontSize: "0.7em", verticalAlign: "-0.3em", lineHeight: 0 };
const lineStyle: React.CSSProperties = { textAlign: "justify", textAlignLast: "justify" as any, height: 26.9, lineHeight: "26.9px", whiteSpace: "normal" };

export default function App() {
  const ref = useRef<HTMLDivElement>(null);
  useEffect(() => {
    const chart = echarts.init(ref.current!, null, { renderer: "svg" });
    chart.setOption(buildOption() as any);
    return () => chart.dispose();
  }, []);
  const S = (t: string) => <sub style={subStyle}>{t}</sub>;
  return (
    <div style={{ position: "fixed", left: 0, top: 0, width: 1290, height: 1424, overflow: "hidden", background: "#fff" }}>
      <div style={{ position: "absolute", left: 10, top: 8, width: 1320, height: 1413, border: "1.5px solid #4a4a4a", borderRadius: 12, boxSizing: "border-box" }} />
      <div ref={ref} style={{ position: "absolute", left: 0, top: 0, width: 1290, height: 1256 }} />
      <div style={{ position: "absolute", left: 25, top: 1259, width: 1253, fontFamily: '"Open Sans", "Noto Sans", sans-serif', fontSize: 17.8, color: "#231f20" }}>
        <div style={lineStyle}><b>Fig. 4</b> Online measurement of biomass and Plk-eGFP formation. Scattered light intensity as a measure for biomass (first column) and eGFP</div>
        <div style={lineStyle}>fluorescence intensity (second column) over time of culture of <i>E. coli</i> BL21(DE3) uAA-eGFP cultures. Four process parameters were varied</div>
        <div style={lineStyle}>individually: (<b>a</b>, <b>b</b>) Plk concentration c{S("plk")} = 0–70 mM; (<b>c</b>, <b>d</b>) time of Plk addition t{S("plk")} = 4–2 h (<b>e</b>, <b>f</b>) IPTG concentration c{S("IPTG")} = 0–500 µM (<b>g</b>, <b>h</b>) and time of</div>
        <div style={lineStyle}>IPTG addition t{S("IPTG")} = 4 – 12 h. If not varied, parameters were fixed at c{S("Plk")} = 10 mM, t{S("Plk")} = 4 h, c{S("IPTG")} = 200 µM and t{S("IPTG")} = 4 h respectively. No Plk and no</div>
        <div style={lineStyle}>IPTG was added to cultures designated as ‘non-induced’ (dark grey). Small down-pointing arrows indicate the time of Plk and IPTG supplementation</div>
        <div style={{ ...lineStyle, textAlignLast: "left" as any }}>and large vertical arrows indicate trends in eGFP fluorescence after 32 h</div>
      </div>
    </div>
  );
}
